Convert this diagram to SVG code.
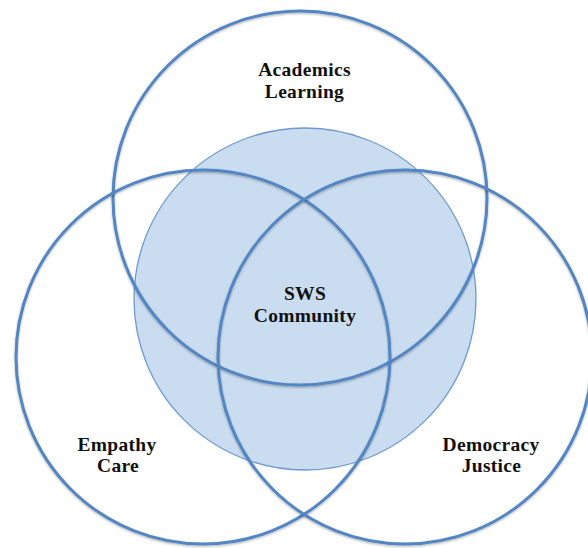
<svg xmlns="http://www.w3.org/2000/svg" width="588" height="548" viewBox="0 0 588 548">
  <style>
    .ring { fill: none; stroke: #5286c2; stroke-width: 3; filter: url(#soft); }
    .core { fill: #cadcf0; stroke: #6e9ad0; stroke-width: 1.3; }
    .label { font-family: "Liberation Serif", "Times New Roman", serif; font-weight: bold; font-size: 19.5px; letter-spacing: 0.3px; fill: #111; text-anchor: middle; }
  </style>
  <defs>
    <filter id="soft" x="-10%" y="-10%" width="120%" height="120%">
      <feDropShadow dx="0" dy="1.2" stdDeviation="0.9" flood-color="#000" flood-opacity="0.3"/>
    </filter>
  </defs>
  <rect width="588" height="548" fill="#fff"/>

  <!-- shared core: the community -->
  <g id="core">
    <circle class="core" cx="305" cy="299" r="171"/>
  </g>

  <!-- the three overlapping domains -->
  <g id="academics">
    <circle class="ring" cx="300" cy="198" r="187"/>
  </g>
  <g id="empathy">
    <circle class="ring" cx="203" cy="357" r="187"/>
  </g>
  <g id="democracy">
    <circle class="ring" cx="405" cy="357" r="187"/>
  </g>

  <!-- labels -->
  <g id="academics-label">
    <text class="label" x="304.5" y="76">Academics</text>
    <text class="label" x="304.5" y="98">Learning</text>
  </g>
  <g id="core-label">
    <text class="label" x="305" y="300">SWS</text>
    <text class="label" x="305" y="322">Community</text>
  </g>
  <g id="empathy-label">
    <text class="label" x="117" y="451">Empathy</text>
    <text class="label" x="118" y="472">Care</text>
  </g>
  <g id="democracy-label">
    <text class="label" x="491" y="451">Democracy</text>
    <text class="label" x="491.5" y="472">Justice</text>
  </g>
  <g id="connectors"></g>
</svg>
